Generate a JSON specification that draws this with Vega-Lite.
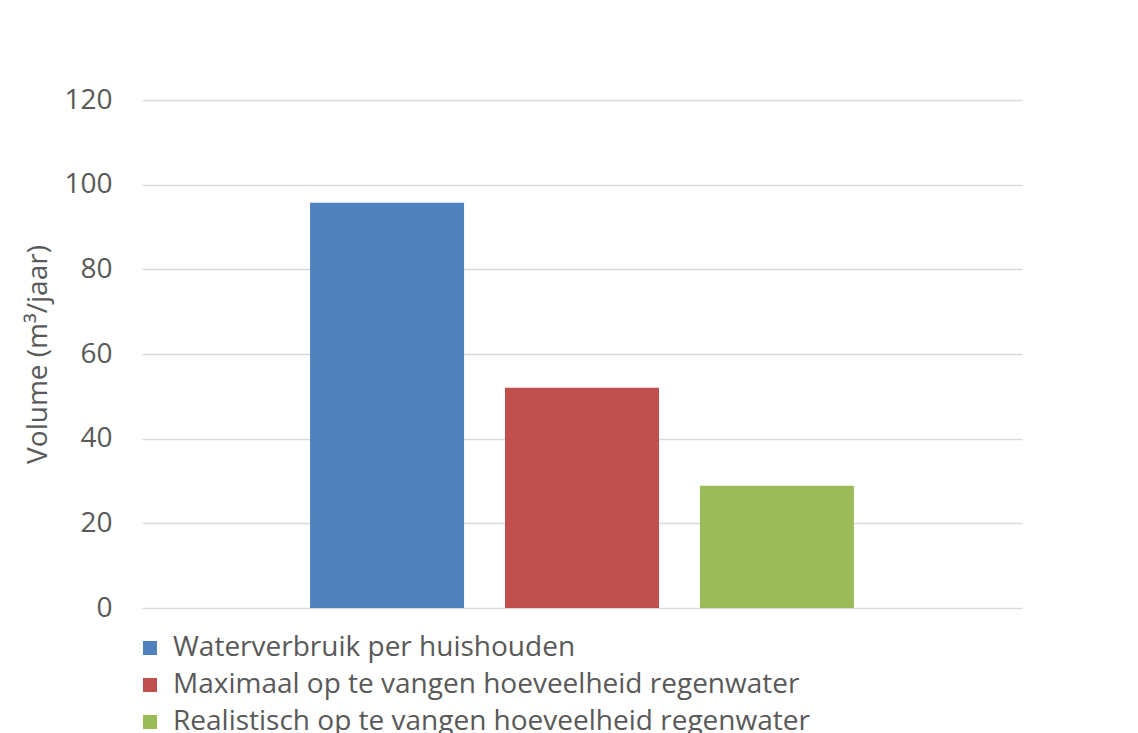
{
  "$schema": "https://vega.github.io/schema/vega-lite/v6.json",
  "autosize": "none",
  "width": 880,
  "height": 508,
  "padding": {"left": 142, "top": 100, "right": 116, "bottom": 125},
  "background": "white",
  "data": {
    "values": [
      {"cat": "A", "serie": "Waterverbruik per huishouden", "volume": 95.7},
      {"cat": "A", "serie": "Maximaal op te vangen hoeveelheid regenwater", "volume": 52.0},
      {"cat": "A", "serie": "Realistisch op te vangen hoeveelheid regenwater", "volume": 28.9}
    ]
  },
  "mark": {"type": "bar"},
  "encoding": {
    "x": {"field": "cat", "type": "nominal", "axis": null, "scale": {"paddingInner": 0, "paddingOuter": 0.309}},
    "xOffset": {"field": "serie", "type": "nominal", "sort": null, "scale": {"paddingInner": 0.21, "paddingOuter": 0}},
    "y": {
      "field": "volume", "type": "quantitative",
      "scale": {"domain": [0, 120], "nice": false},
      "axis": {
        "values": [0, 20, 40, 60, 80, 100, 120],
        "title": "Volume (m³/jaar)",
        "domain": false, "ticks": false,
        "grid": true, "gridColor": "#d9d9d9", "gridWidth": 1.5,
        "labelFont": "Open Sans", "labelFontSize": 28, "labelColor": "#595959", "labelPadding": 30,
        "titleFont": "Open Sans", "titleFontSize": 28, "titleColor": "#595959", "titleFontWeight": "normal", "titlePadding": 11
      }
    },
    "color": {
      "field": "serie", "type": "nominal", "sort": null,
      "scale": {"range": ["#4f81bd", "#c0504d", "#9bbb59"]},
      "legend": {
        "title": null, "orient": "none", "legendX": -6, "legendY": 534, "direction": "vertical",
        "symbolType": "square", "symbolSize": 196, "symbolStrokeWidth": 0, "symbolOpacity": 1,
        "labelFont": "Open Sans", "labelFontSize": 28, "labelColor": "#595959", "labelLimit": 900,
        "rowPadding": 9, "labelOffset": 9
      }
    }
  },
  "config": {"view": {"stroke": null}}
}
